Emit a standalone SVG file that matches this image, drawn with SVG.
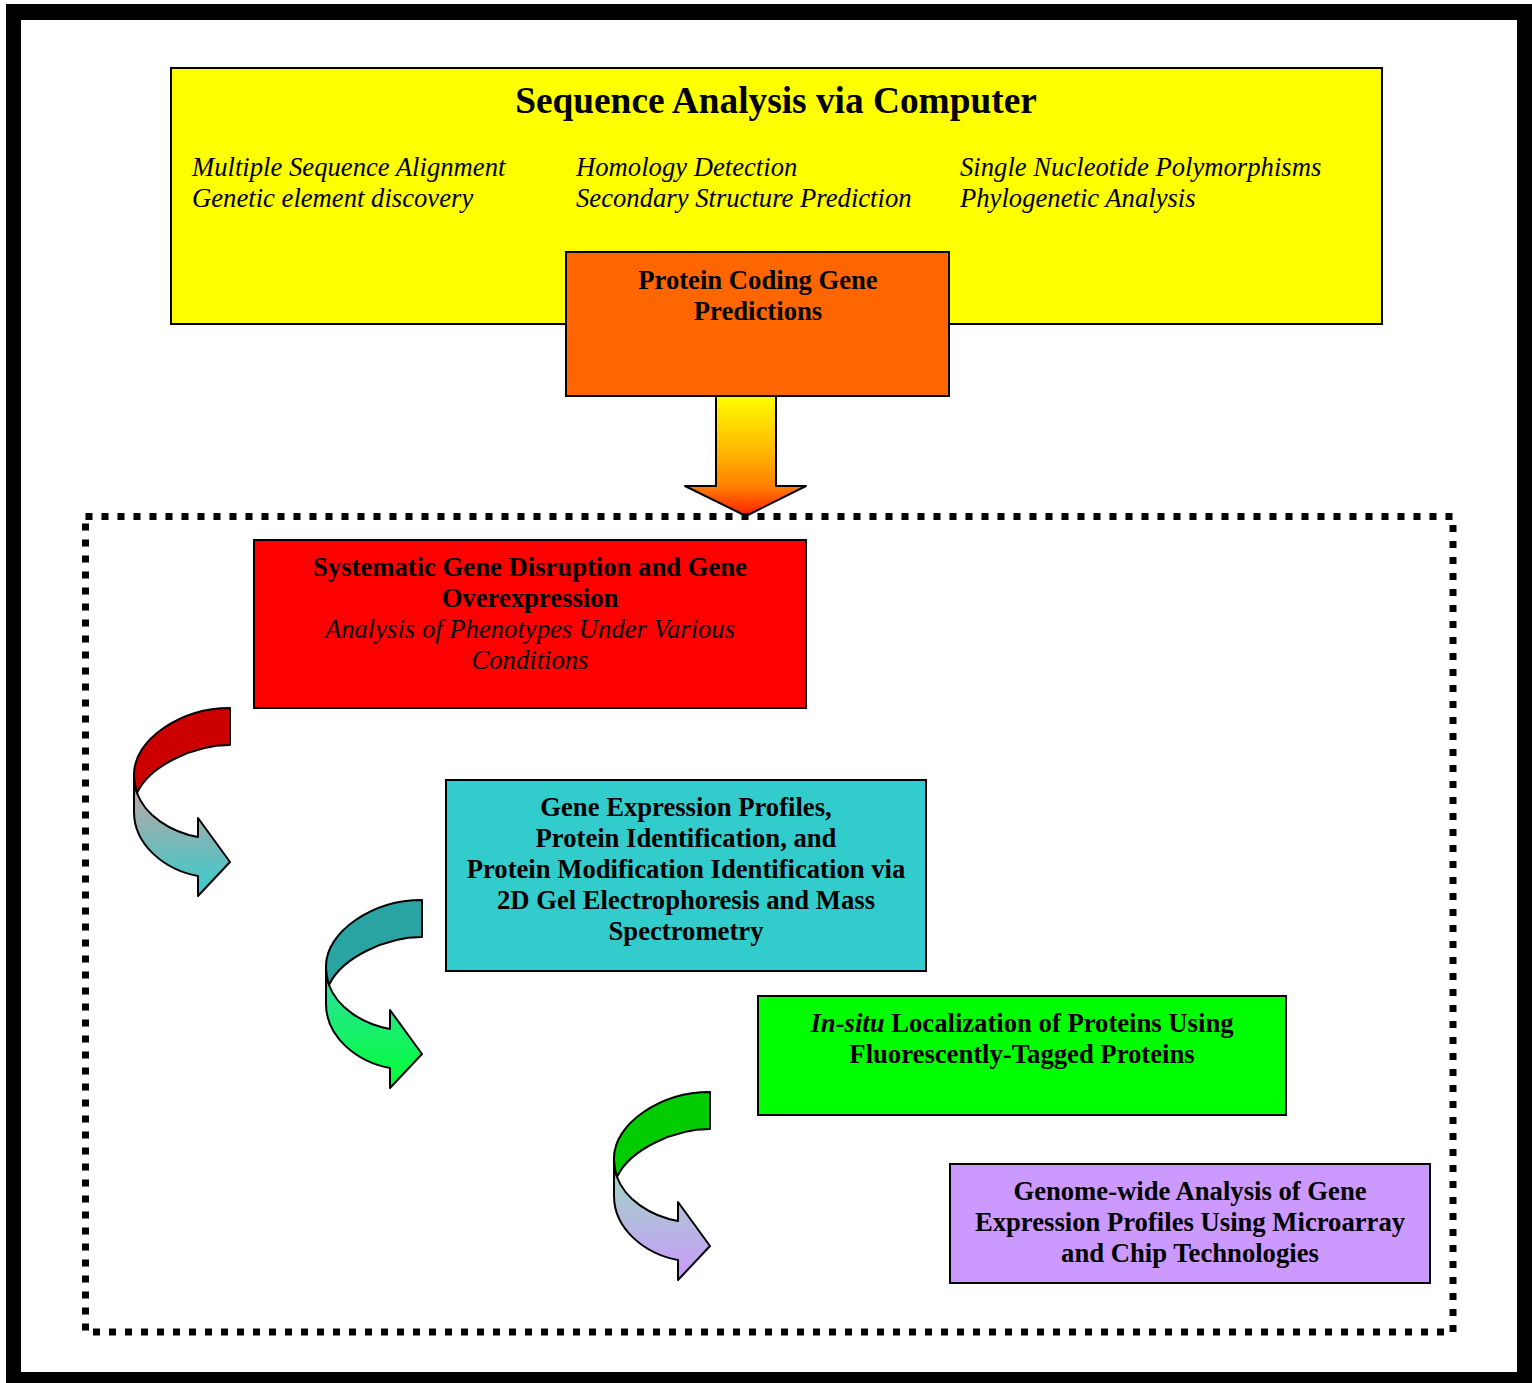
<svg xmlns="http://www.w3.org/2000/svg" width="1532" height="1383" viewBox="0 0 1532 1383">
<style>
  text { font-family: "Liberation Serif", "Times New Roman", serif; fill: #000; }
  .title { font-size: 37.33px; font-weight: bold; text-anchor: middle; }
  .it { font-size: 26.67px; font-style: italic; }
  .b { font-size: 26.67px; font-weight: bold; text-anchor: middle; }
  .bi { font-size: 26.67px; font-style: italic; text-anchor: middle; }
  .box { stroke: #000; stroke-width: 2; }
  .arr { stroke: #000; stroke-width: 2; stroke-linejoin: round; }
</style>
<defs>
  <linearGradient id="gDown" x1="0" y1="0" x2="0" y2="1">
    <stop offset="0" stop-color="#ffff00"/>
    <stop offset="0.5" stop-color="#ffb000"/>
    <stop offset="0.75" stop-color="#ff8000"/>
    <stop offset="1" stop-color="#ff2000"/>
  </linearGradient>
  <linearGradient id="g1" x1="0" y1="0" x2="0" y2="1">
    <stop offset="0" stop-color="#d2a0a0"/>
    <stop offset="1" stop-color="#33cccc"/>
  </linearGradient>
  <linearGradient id="g2" x1="0" y1="0" x2="0" y2="1">
    <stop offset="0" stop-color="#33ddaa"/>
    <stop offset="1" stop-color="#00ff33"/>
  </linearGradient>
  <linearGradient id="g3" x1="0" y1="0" x2="0" y2="1">
    <stop offset="0" stop-color="#99ddbb"/>
    <stop offset="1" stop-color="#cc99ff"/>
  </linearGradient>
  <path id="front" d="M134,774 L134,812 C134,845 165,870 198,876 L198,896 L230,862 L198,818 L198,837 C170,832 145,815 137,793 C135,786 134,780 134,774 Z"/>
  <path id="back" d="M230,708 L230,745 C195,745 150,765 137,793 C135,786 134,780 134,774 C134,740 180,708 230,708 Z"/>
</defs>

<rect x="0" y="0" width="1532" height="1383" fill="#fff"/>
<path d="M6,4 H1540 V1390 H6 Z M21,20 V1372 H1517 V20 Z" fill="#000" fill-rule="evenodd"/>

<g id="sequence-analysis">
  <rect class="box" x="171" y="68" width="1211" height="256" fill="#ffff00"/>
  <text class="title" x="776" y="113">Sequence Analysis via Computer</text>
  <text class="it" x="192" y="176">Multiple Sequence Alignment</text>
  <text class="it" x="192" y="207">Genetic element discovery</text>
  <text class="it" x="576" y="176">Homology Detection</text>
  <text class="it" x="576" y="207">Secondary Structure Prediction</text>
  <text class="it" x="960" y="176">Single Nucleotide Polymorphisms</text>
  <text class="it" x="960" y="207">Phylogenetic Analysis</text>
</g>

<g id="protein-coding">
  <rect class="box" x="566" y="252" width="383" height="144" fill="#ff6600"/>
  <text class="b" x="758" y="289">Protein Coding Gene</text>
  <text class="b" x="758" y="320">Predictions</text>
</g>

<g id="connectors">
  <path class="arr" d="M716,396 L776,396 L776,486 L806,486 L746,516 L685,486 L716,486 Z" fill="url(#gDown)"/>
  <g id="curve1">
    <use href="#front" class="arr" fill="url(#g1)"/>
    <use href="#back" class="arr" fill="#cc0000"/>
  </g>
  <g id="curve2" transform="translate(192,192)">
    <use href="#front" class="arr" fill="url(#g2)"/>
    <use href="#back" class="arr" fill="#2aa3a3"/>
  </g>
  <g id="curve3" transform="translate(480,384)">
    <use href="#front" class="arr" fill="url(#g3)"/>
    <use href="#back" class="arr" fill="#00cc00"/>
  </g>
</g>

<rect id="functional-genomics" x="85.5" y="516.5" width="1367.5" height="815.5" fill="none" stroke="#000" stroke-width="7" stroke-dasharray="7 9"/>

<g id="gene-disruption">
  <rect class="box" x="254" y="540" width="552" height="168" fill="#ff0000"/>
  <text class="b" x="530" y="576">Systematic Gene Disruption and Gene</text>
  <text class="b" x="530" y="607">Overexpression</text>
  <text class="bi" x="530" y="638">Analysis of Phenotypes Under Various</text>
  <text class="bi" x="530" y="669">Conditions</text>
</g>

<g id="gene-expression">
  <rect class="box" x="446" y="780" width="480" height="191" fill="#33cccc"/>
  <text class="b" x="686" y="816">Gene Expression Profiles,</text>
  <text class="b" x="686" y="847">Protein Identification, and</text>
  <text class="b" x="686" y="878">Protein Modification Identification via</text>
  <text class="b" x="686" y="909">2D Gel Electrophoresis and Mass</text>
  <text class="b" x="686" y="940">Spectrometry</text>
</g>

<g id="in-situ">
  <rect class="box" x="758" y="996" width="528" height="119" fill="#00ff00"/>
  <text class="b" x="1022" y="1032"><tspan font-style="italic">In-situ</tspan> Localization of Proteins Using</text>
  <text class="b" x="1022" y="1063">Fluorescently-Tagged Proteins</text>
</g>

<g id="genome-wide">
  <rect class="box" x="950" y="1164" width="480" height="119" fill="#cc99ff"/>
  <text class="b" x="1190" y="1200">Genome-wide Analysis of Gene</text>
  <text class="b" x="1190" y="1231">Expression Profiles Using Microarray</text>
  <text class="b" x="1190" y="1262">and Chip Technologies</text>
</g>
</svg>
